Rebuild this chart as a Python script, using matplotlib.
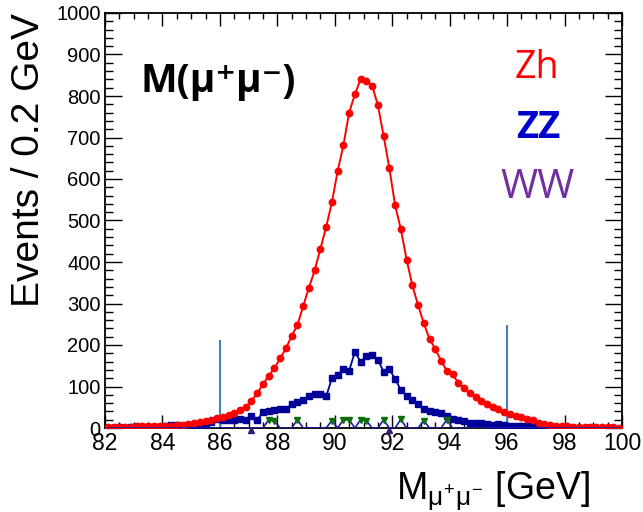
import numpy as np
import matplotlib
matplotlib.use('Agg')
import matplotlib.pyplot as plt
from matplotlib.ticker import MultipleLocator

plt.rcParams['font.family'] = ['Liberation Sans', 'DejaVu Sans']
plt.rcParams['mathtext.fontset'] = 'custom'
plt.rcParams['mathtext.rm'] = 'Liberation Sans'
plt.rcParams['mathtext.it'] = 'Liberation Sans'

# bin centres, 0.2 GeV bins from 82 to 100
mass = np.round(np.arange(82.1, 100.0, 0.2), 1)

# Zh signal
zh = [2, 2, 3, 3, 3, 4, 4, 4, 5, 5,
      6, 6, 7, 8, 10, 12, 14, 17, 19, 23,
      27, 31, 35, 43, 51, 65, 84, 105, 126, 144,
      168, 192, 222, 248, 294, 338, 380, 432, 484, 544,
      619, 681, 760, 804, 841, 837, 825, 778, 704, 626,
      537, 479, 406, 344, 296, 252, 214, 190, 162, 138,
      129, 109, 96, 85, 75, 65, 59, 51, 45, 39,
      34, 29, 27, 22, 19, 13, 10, 7, 5, 4,
      4, 3, 3, 3, 2, 2, 2, 2, 2, 1]

# ZZ background
zz = [1, 1, 2, 1, 2, 2, 3, 2, 3, 3,
      4, 7, 7, 5, 5, 6, 8, 10, 14, 21,
      20, 19, 20, 21, 19, 28, 20, 38, 40, 44,
      46, 45, 58, 62, 68, 78, 82, 82, 76, 120,
      128, 142, 138, 183, 160, 173, 176, 164, 136, 142,
      118, 92, 78, 68, 57, 45, 40, 38, 35, 30,
      22, 20, 18, 13, 12, 11, 10, 8, 9, 7,
      6, 5, 6, 4, 4, 3, 2, 2, 1, 1,
      1, 1, 0, 1, 0, 0, 0, 0, 0, 0]

# WW background: only a few filled bins
ww_bins = [87.7, 87.9, 88.7, 89.9, 90.3, 90.5, 90.9, 91.1, 91.7, 92.3, 93.1, 93.9]
ww_vals = [20, 16, 20, 18, 20, 20, 20, 18, 20, 21, 18, 20]
ww_neg_bins = [87.1, 91.9]

# mass window cut lines
cut_pos = [86, 96]
cut_top = [212, 248]

zh = np.array(zh, dtype=float)
zz = np.array(zz, dtype=float)
ww = np.zeros(len(mass))
for b, v in zip(ww_bins, ww_vals):
    ww[np.isclose(mass, b)] = v

fig = plt.figure(figsize=(6.43, 5.12), dpi=100)
ax = fig.add_axes([105/643, 1 - 428/512, 517/643, 415/512])

ax.vlines(cut_pos, 0, cut_top, color='#4a7ebb', lw=1.5, zorder=2)

navy = '#000099'
ax.plot(mass, zz, color=navy, lw=1.3, zorder=3)
ax.plot(mass[zz > 0], zz[zz > 0], 's', color=navy, ms=4.6, zorder=3)

ax.plot(mass, zh, '-o', color='#ff0000', lw=1.4, ms=4.6, zorder=4)

ax.plot(mass, ww, color='#1c1ca8', lw=1.2, zorder=5)
ax.plot(mass[ww > 0], ww[ww > 0], 'v', color='#0b6e0b', ms=5, zorder=5)
ax.plot(ww_neg_bins, [-5] * len(ww_neg_bins), '^', color='#3d1a7a', ms=4,
        zorder=5, clip_on=False)

ax.set_xlim(82, 100)
ax.set_ylim(0, 1000)
ax.xaxis.set_major_locator(MultipleLocator(2))
ax.xaxis.set_minor_locator(MultipleLocator(0.5))
ax.yaxis.set_major_locator(MultipleLocator(100))
ax.yaxis.set_minor_locator(MultipleLocator(20))
ax.tick_params(which='both', direction='in', top=True, right=True, width=1.0)
ax.tick_params(axis='x', which='major', length=9.5, labelsize=16.5, pad=3)
ax.tick_params(axis='x', which='minor', length=4.5)
ax.tick_params(axis='y', which='major', length=12, labelsize=14.5, pad=3)
ax.tick_params(axis='y', which='minor', length=6)
for s in ax.spines.values():
    s.set_linewidth(1.3)

ax.set_ylabel('Events / 0.2 GeV', fontsize=28, loc='top')
ax.yaxis.set_label_coords(-0.112, 1.0)
ax.set_xlabel(r'M$_{\mu^{+}\mu^{-}}$ [GeV]', fontsize=27)
ax.xaxis.label.set_ha('right')
ax.xaxis.label.set_va('baseline')
ax.xaxis.set_label_coords(0.938, -0.172)

ax.text(0.068, 0.81, 'M(μ⁺μ⁻)', transform=ax.transAxes, fontsize=28,
        fontweight='bold', family=['Open Sans', 'DejaVu Sans'],
        ha='left', va='baseline')
ax.text(0.836, 0.843, 'Zh', transform=ax.transAxes, fontsize=27,
        color='#ff0000', family=['Open Sans', 'DejaVu Sans'],
        ha='center', va='baseline')
ax.text(0.838, 0.699, 'ZZ', transform=ax.transAxes, fontsize=27.5,
        color='#0000cc', fontweight='bold', family=['Open Sans', 'DejaVu Sans'],
        ha='center', va='baseline')
ax.text(0.836, 0.554, 'WW', transform=ax.transAxes, fontsize=29,
        color='#7030a0', family=['Open Sans', 'DejaVu Sans'],
        ha='center', va='baseline')

fig.savefig('out.png', dpi=100)
